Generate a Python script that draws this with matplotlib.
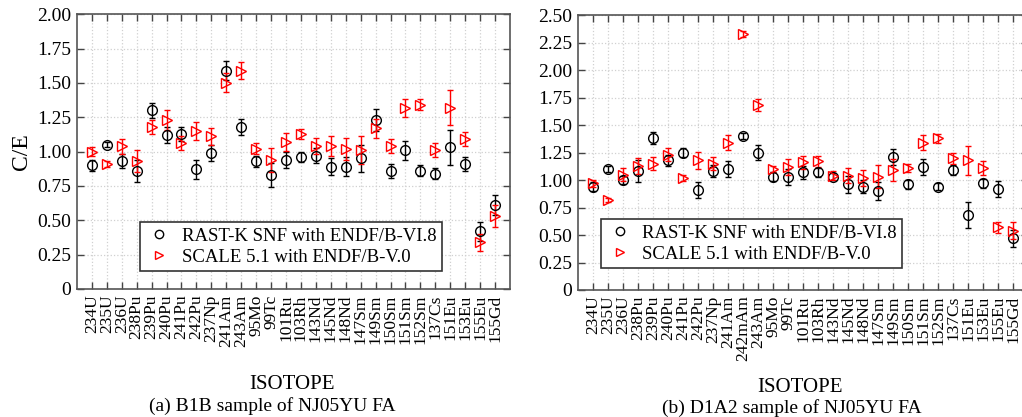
import numpy as np
import matplotlib
matplotlib.use("Agg")
import matplotlib.pyplot as plt
from matplotlib.lines import Line2D

plt.rcParams["font.family"] = ["Liberation Serif", "DejaVu Serif"]

# (a) B1B sample
iso_a = ["234U", "235U", "236U", "238Pu", "239Pu", "240Pu", "241Pu", "242Pu", "237Np",
         "241Am", "243Am", "95Mo", "99Tc", "101Ru", "103Rh", "143Nd", "145Nd", "148Nd",
         "147Sm", "149Sm", "150Sm", "151Sm", "152Sm", "137Cs", "151Eu", "153Eu", "155Eu", "155Gd"]
rast_a = [0.90, 1.05, 0.93, 0.86, 1.30, 1.12, 1.13, 0.87, 0.99, 1.59, 1.18, 0.93, 0.83, 0.94,
          0.96, 0.97, 0.89, 0.89, 0.95, 1.23, 0.86, 1.01, 0.86, 0.84, 1.03, 0.91, 0.42, 0.61]
rast_a_err = [0.04, 0.02, 0.05, 0.08, 0.055, 0.06, 0.05, 0.07, 0.055, 0.07, 0.06, 0.04, 0.085,
              0.06, 0.035, 0.055, 0.06, 0.07, 0.10, 0.08, 0.05, 0.07, 0.04, 0.04, 0.125, 0.05, 0.07, 0.075]
scale_a = [1.00, 0.91, 1.04, 0.93, 1.18, 1.23, 1.06, 1.15, 1.11, 1.50, 1.59, 1.02, 0.94, 1.07,
           1.13, 1.04, 1.04, 1.02, 1.01, 1.17, 1.04, 1.32, 1.34, 1.01, 1.32, 1.09, 0.34, 0.53]
scale_a_err = [0.03, 0.02, 0.055, 0.08, 0.05, 0.07, 0.05, 0.065, 0.06, 0.07, 0.06, 0.04, 0.085,
               0.065, 0.035, 0.06, 0.07, 0.08, 0.10, 0.07, 0.05, 0.065, 0.04, 0.05, 0.125, 0.05, 0.06, 0.08]

# (b) D1A2 sample
iso_b = ["234U", "235U", "236U", "238Pu", "239Pu", "240Pu", "241Pu", "242Pu", "237Np",
         "241Am", "242mAm", "243Am", "95Mo", "99Tc", "101Ru", "103Rh", "143Nd", "145Nd", "148Nd",
         "147Sm", "149Sm", "150Sm", "151Sm", "152Sm", "137Cs", "151Eu", "153Eu", "155Eu", "155Gd"]
rast_b = [0.94, 1.10, 1.00, 1.08, 1.38, 1.18, 1.25, 0.91, 1.08, 1.10, 1.40, 1.25, 1.03, 1.03,
          1.07, 1.07, 1.03, 0.96, 0.94, 0.90, 1.21, 0.96, 1.12, 0.94, 1.09, 0.68, 0.97, 0.92, 0.47]
rast_b_err = [0.04, 0.03, 0.04, 0.10, 0.055, 0.05, 0.04, 0.07, 0.055, 0.07, 0.03, 0.065, 0.04,
              0.075, 0.06, 0.04, 0.03, 0.075, 0.06, 0.08, 0.075, 0.04, 0.075, 0.03, 0.045, 0.12, 0.04, 0.075, 0.075]
scale_b = [0.97, 0.82, 1.05, 1.13, 1.15, 1.23, 1.02, 1.18, 1.15, 1.34, 2.33, 1.68, 1.10, 1.12,
           1.16, 1.17, 1.04, 1.04, 1.02, 1.03, 1.09, 1.11, 1.34, 1.38, 1.20, 1.18, 1.11, 0.57, 0.54]
scale_b_err = [0.03, 0.02, 0.06, 0.075, 0.06, 0.06, 0.03, 0.075, 0.06, 0.07, 0.03, 0.055, 0.03,
               0.075, 0.06, 0.05, 0.04, 0.07, 0.075, 0.105, 0.10, 0.04, 0.07, 0.04, 0.05, 0.13, 0.06, 0.05, 0.075]


def panel(ax, iso, rast, rast_err, scale, scale_err, ymax, legend_anchor):
    x = np.arange(1, len(iso) + 1)
    ax.errorbar(x, rast, yerr=rast_err, fmt="o", mfc="none", mec="black", ecolor="black",
                ms=7, mew=1.0, elinewidth=1.0, capsize=2.5, capthick=1.0, zorder=3)
    ax.errorbar(x, scale, yerr=scale_err, fmt=">", mfc="none", mec="red", ecolor="red",
                ms=7, mew=1.0, elinewidth=1.0, capsize=2.5, capthick=1.0, zorder=3)
    ax.set_xlim(0, len(iso) + 1)
    ax.set_ylim(0, ymax)
    ax.set_xticks(x)
    ax.set_xticklabels(iso, rotation=90, fontsize=12.5)
    yt = np.arange(0, ymax + 0.01, 0.25)
    ax.set_yticks(yt)
    ax.set_yticklabels(["0"] + ["%.2f" % v for v in yt[1:]], fontsize=14)
    ax.grid(True, color="#d0d0d0", linestyle=":", linewidth=0.9)
    ax.set_axisbelow(True)
    ax.tick_params(direction="in", top=True, right=True, length=5, width=1.0,
                   color="#444444", pad=4)
    for sp in ax.spines.values():
        sp.set_color("#555555")
        sp.set_linewidth(1.2)
    handles = [Line2D([], [], ls="none", marker="o", mfc="none", mec="black", ms=6, mew=1.0),
               Line2D([], [], ls="none", marker=">", mfc="none", mec="red", ms=6, mew=1.0)]
    labels = ["RAST-K SNF with ENDF/B-VI.8", "SCALE 5.1 with ENDF/B-V.0"]
    leg = ax.legend(handles, labels, loc="lower left", bbox_to_anchor=legend_anchor, fontsize=13.5,
                    fancybox=False, edgecolor="#333333", framealpha=1,
                    borderpad=0.3, handletextpad=0.5, labelspacing=0.2,
                    handlelength=1.4)
    leg.get_frame().set_linewidth(1.2)


fig = plt.figure(figsize=(10.22, 4.17), dpi=100)
ax1 = fig.add_axes([0.0753, 0.307, 0.4237, 0.659])
ax2 = fig.add_axes([0.5656, 0.3046, 0.4403, 0.659])

panel(ax1, iso_a, rast_a, rast_a_err, scale_a, scale_a_err, 2.0, (0.125, 0.03))
panel(ax2, iso_b, rast_b, rast_b_err, scale_b, scale_b_err, 2.5, (0.03, 0.045))

ax1.set_ylabel("C/E", fontsize=17, labelpad=4)

fig.text(0.286, 0.078, "ISOTOPE", ha="center", va="center", fontsize=15)
fig.text(0.783, 0.070, "ISOTOPE", ha="center", va="center", fontsize=15)
fig.text(0.266, 0.027, "(a) B1B sample of NJ05YU FA", ha="center", va="center", fontsize=14)
fig.text(0.775, 0.022, "(b) D1A2 sample of NJ05YU FA", ha="center", va="center", fontsize=14)

fig.savefig("out.png", dpi=100)
